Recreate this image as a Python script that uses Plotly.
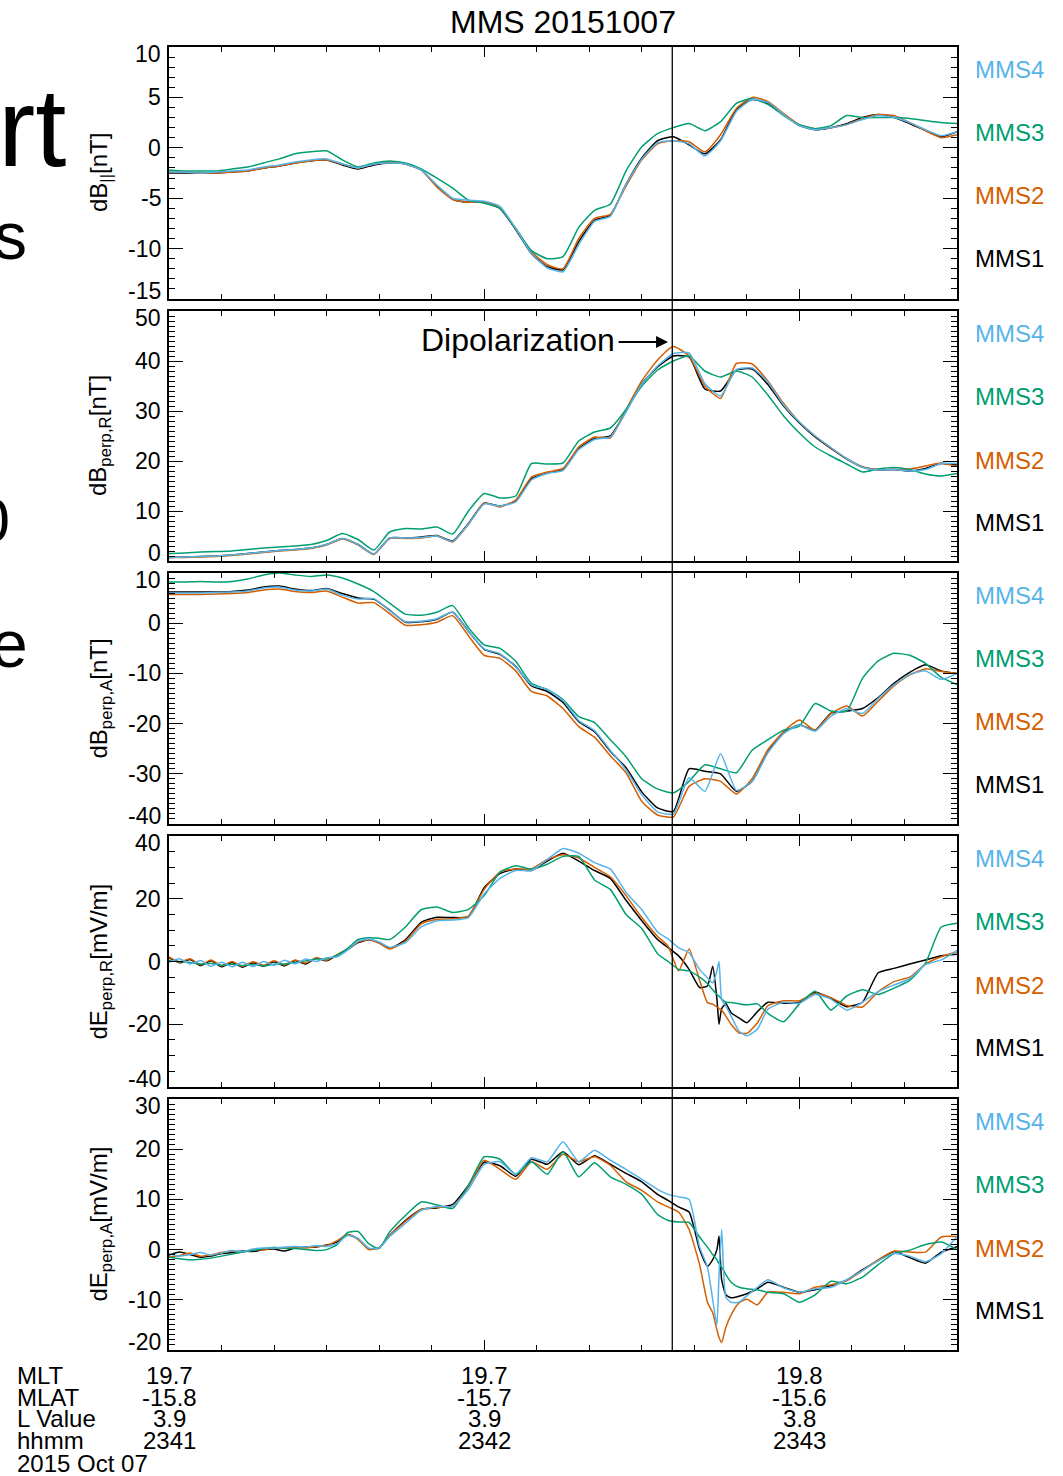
import plotly.graph_objects as go
from plotly.subplots import make_subplots

# ---- time grids (seconds after 23:41:00 UT, 2015-10-07) ----
T_B = list(range(0, 151, 3))
T_E = (list(range(0, 41, 2)) + list(range(42, 91, 3)) +
       [93, 95, 97, 99, 101, 102.5, 103.5, 104.3, 104.7, 105.2, 106, 107, 108.5, 110, 112, 114] +
       list(range(117, 151, 3)))

SERIES = ["MMS1", "MMS2", "MMS3", "MMS4"]
COLORS = {"MMS1": "#000000", "MMS2": "#D55E00", "MMS3": "#009E73", "MMS4": "#56B4E9"}

# ---- dB_parallel [nT] ----
BPAR_1 = [-2.5,-2.5,-2.5,-2.5,-2.4,-2.3,-2.0,-1.8,-1.5,-1.3,-1.2,-1.7,-2.1,-1.7,-1.5,-1.6,-2.2,-3.8,-5.1,-5.4,-5.4,-6.0,-8.1,-10.5,-11.8,-12.1,-9.3,-7.2,-6.7,-3.6,-1.0,0.7,1.1,0.3,-0.6,0.8,3.8,4.8,4.4,3.3,2.2,1.8,2.0,2.4,3.0,3.3,3.0,2.4,1.7,1.1,1.6]
BPAR_2 = [-2.4,-2.4,-2.5,-2.5,-2.4,-2.3,-2.0,-1.8,-1.5,-1.3,-1.2,-1.6,-2.0,-1.6,-1.4,-1.6,-2.2,-3.9,-5.1,-5.4,-5.4,-6.0,-8.0,-10.3,-11.6,-12.0,-9.0,-7.0,-6.6,-3.8,-1.2,0.4,0.7,0.6,-0.4,1.3,3.9,5.0,4.6,3.4,2.3,1.9,2.0,2.3,2.9,3.3,3.2,2.5,1.7,1.0,1.3]
BPAR_3 = [-2.2,-2.3,-2.3,-2.3,-2.1,-1.9,-1.5,-1.1,-0.6,-0.4,-0.3,-1.2,-1.9,-1.5,-1.3,-1.5,-2.1,-3.0,-4.0,-5.2,-5.5,-6.0,-8.0,-10.2,-11.0,-10.8,-7.9,-6.2,-5.6,-2.3,0.1,1.4,2.0,2.4,1.7,2.6,4.4,4.9,4.3,3.2,2.3,1.9,2.2,3.2,3.0,3.0,3.0,2.9,2.7,2.5,2.4]
BPAR_4 = [-2.4,-2.4,-2.5,-2.4,-2.3,-2.2,-1.9,-1.7,-1.4,-1.2,-1.1,-1.6,-2.0,-1.6,-1.5,-1.6,-2.2,-3.7,-5.0,-5.2,-5.3,-5.8,-8.0,-10.5,-11.9,-12.3,-9.6,-7.3,-6.8,-3.6,-1.1,0.5,0.7,0.4,-0.8,0.7,3.6,4.8,4.5,3.3,2.2,1.8,2.0,2.3,2.8,3.2,3.0,2.5,1.8,1.2,1.6]

# ---- dB_perp,R [nT] ----
BPR_1 = [0.7,0.8,0.9,1.0,1.2,1.5,1.8,2.1,2.3,2.6,3.3,4.5,3.3,1.4,4.6,4.6,4.8,5.1,4.0,7.5,11.6,11.0,12.0,16.5,17.6,18.3,22.5,24.5,25.0,30.0,35.5,38.8,41.0,40.8,34.4,34.0,38.2,38.4,35.3,31.0,27.6,24.8,22.5,20.4,18.8,18.2,18.3,18.0,18.5,19.5,19.2]
BPR_2 = [0.7,0.7,0.8,0.9,1.1,1.4,1.7,2.0,2.2,2.5,3.2,4.4,3.2,1.3,4.5,4.5,4.6,5.0,3.8,7.3,11.6,10.8,12.2,16.8,17.8,18.5,22.8,24.8,24.6,30.3,36.0,40.2,42.9,41.0,35.0,32.5,39.5,39.4,36.0,31.5,27.8,25.0,22.6,20.5,18.8,18.3,18.3,18.4,19.0,19.6,18.9]
BPR_3 = [1.5,1.6,1.8,1.9,2.0,2.3,2.6,2.8,3.0,3.3,4.1,5.5,4.3,2.2,5.8,6.5,6.4,6.8,5.4,10.0,13.5,12.6,13.0,19.5,19.4,19.6,24.0,25.8,26.6,30.3,35.0,38.2,40.0,41.0,38.0,36.8,38.0,36.8,33.2,29.0,25.6,22.8,21.0,19.4,17.8,18.4,18.7,18.3,17.4,17.0,17.5]
BPR_4 = [0.7,0.8,0.9,1.0,1.2,1.5,1.8,2.1,2.3,2.6,3.3,4.5,3.3,1.4,4.6,4.6,4.7,5.0,3.9,7.4,11.4,11.0,11.8,16.2,17.5,18.1,22.3,24.3,24.8,29.8,35.4,39.0,41.5,41.6,35.5,33.0,38.3,38.6,35.8,31.2,27.8,25.0,22.7,20.5,18.7,18.2,18.3,18.0,18.3,19.5,19.5]

# ---- dB_perp,A [nT] ----
BPA_1 = [6.2,6.2,6.2,6.2,6.3,6.6,7.2,7.4,6.8,6.5,6.9,5.9,5.0,4.8,2.6,0.2,0.3,0.8,2.2,-1.6,-5.2,-6.2,-8.6,-12.5,-13.6,-15.8,-19.6,-21.6,-25.5,-28.8,-33.6,-36.8,-37.5,-29.0,-29.5,-30.0,-33.5,-31.5,-25.6,-21.8,-20.3,-21.3,-17.9,-17.5,-17.0,-14.8,-12.0,-9.8,-8.3,-9.5,-10.0]
BPA_2 = [5.7,5.7,5.7,5.8,5.9,6.1,6.6,6.8,6.3,6.1,6.4,5.2,4.0,4.1,1.9,-0.4,-0.3,0.2,1.5,-2.5,-6.4,-7.0,-9.5,-13.6,-14.5,-17.0,-20.6,-22.7,-26.4,-29.8,-35.5,-38.2,-38.6,-32.5,-31.0,-31.5,-34.0,-31.0,-25.2,-21.6,-19.3,-21.3,-18.0,-16.5,-18.5,-15.5,-12.5,-10.3,-9.1,-9.6,-10.0]
BPA_3 = [8.2,8.2,8.3,8.2,8.3,8.8,9.6,10.0,9.6,9.3,9.6,9.0,7.8,6.3,4.0,1.8,1.6,2.2,3.5,-0.9,-4.3,-5.0,-7.6,-12.0,-13.2,-15.2,-18.6,-19.8,-23.2,-26.6,-31.0,-33.0,-33.8,-31.5,-28.2,-29.0,-29.8,-25.3,-23.2,-21.3,-20.5,-16.0,-17.5,-17.5,-11.0,-7.5,-6.0,-6.4,-8.0,-10.8,-12.2]
BPA_4 = [6.0,6.0,6.0,6.1,6.2,6.4,7.0,7.2,6.6,6.4,6.8,5.6,4.8,4.9,2.5,0.3,0.4,0.9,2.2,-1.6,-5.1,-6.1,-8.7,-12.3,-13.2,-15.4,-19.4,-21.4,-25.3,-29.2,-34.2,-37.6,-38.0,-30.8,-33.5,-26.0,-33.3,-31.5,-25.8,-22.0,-20.3,-21.5,-18.5,-17.0,-18.0,-15.0,-12.3,-10.2,-9.5,-11.2,-10.0]

# ---- dE_perp,R [mV/m] ----
EPR_1 = [1.2,-0.4,0.6,-1.3,0.2,-1.7,-0.3,-1.8,-0.4,-1.5,-0.1,-1.4,0.3,-0.8,1.0,0.2,2.0,3.8,6.0,6.9,6.0,
         4.2,6.9,12.5,14.1,14.0,14.3,23.5,28.0,29.5,29.0,32.0,34.5,32.0,29.0,26.5,19.5,13.0,
         7.0,4.4,1.8,-2.5,-8.3,-7.8,-1.5,-12.0,-20.0,-15.0,-13.5,-16.3,-18.0,-19.5,-16.0,-13.0,
         -13.3,-13.0,-9.8,-11.7,-14.4,-13.0,-3.6,-2.2,-0.8,0.5,1.8,2.3]
EPR_2 = [1.5,-0.2,0.9,-1.0,0.5,-1.4,0.0,-1.5,-0.1,-1.2,0.2,-1.1,0.5,-0.5,1.2,0.4,2.2,4.0,6.2,7.0,5.8,
         4.0,6.5,12.0,13.5,13.6,14.5,23.0,28.5,29.5,29.5,32.5,34.0,33.0,30.0,27.0,21.0,14.0,
         8.0,4.9,-3.0,4.0,-6.0,-13.1,-13.6,-14.5,-15.0,-15.5,-17.4,-20.0,-22.7,-22.9,-19.6,-14.1,
         -12.5,-12.5,-10.2,-11.5,-14.0,-14.5,-9.6,-6.4,-5.0,-0.8,1.5,3.1]
EPR_3 = [0.3,0.0,-0.3,-0.8,-0.6,-1.2,-0.9,-1.3,-1.0,-1.4,-0.9,-0.8,-0.3,0.2,0.8,0.9,2.0,4.2,7.0,7.6,7.4,
         7.0,11.0,16.5,17.4,15.6,16.6,21.0,28.5,30.5,29.5,31.0,33.5,33.5,26.0,23.0,15.0,10.5,
         2.5,0.0,-2.5,-3.0,-5.0,-7.0,-9.0,-10.5,-11.0,-12.0,-13.0,-13.1,-13.5,-13.8,-13.5,-16.5,
         -19.2,-13.5,-9.5,-15.5,-11.0,-9.0,-10.5,-8.5,-6.0,-0.5,11.0,12.2]
EPR_4 = [-0.2,0.9,-0.8,0.3,-1.5,-0.2,-1.7,-0.2,-1.6,0.0,-1.2,0.4,-0.8,0.8,0.0,1.2,1.5,3.6,6.5,7.2,6.2,
         4.5,6.0,11.0,13.0,13.2,14.0,21.5,26.5,29.0,29.0,32.5,36.0,34.5,31.5,29.5,22.0,16.5,
         9.4,7.2,4.4,2.8,-2.5,-5.2,-6.8,-3.0,0.0,-12.0,-14.2,-17.4,-22.2,-23.7,-21.6,-15.2,
         -13.0,-13.3,-10.5,-12.0,-15.5,-13.0,-9.6,-7.5,-5.5,-1.0,0.5,3.5]

# ---- dE_perp,A [mV/m] ----
EPA_1 = [-1.1,-0.5,-1.0,-1.5,-1.3,-0.8,-0.6,-0.3,-0.4,0.0,0.1,-0.3,0.3,0.5,0.5,0.9,1.5,3.0,2.2,0.2,0.3,
         2.8,5.8,8.0,8.3,9.0,12.8,17.4,16.7,14.6,18.0,17.0,19.5,16.9,18.7,17.0,15.2,13.5,
         11.0,9.8,8.5,7.5,0.0,-3.3,-2.0,0.0,2.7,-6.0,-9.0,-9.6,-9.3,-8.8,-7.8,-6.5,
         -7.5,-8.5,-8.0,-7.2,-6.1,-4.0,-2.2,-0.4,-1.6,-2.7,-0.5,0.6]
EPA_2 = [-1.5,-1.2,-0.7,-1.3,-1.0,-0.6,-0.3,-0.5,0.0,-0.1,0.4,0.2,0.5,0.3,0.6,0.8,1.8,3.0,2.0,0.0,0.4,
         2.8,5.6,8.0,8.4,8.6,12.5,17.8,16.0,14.0,17.5,16.0,19.0,17.5,18.5,16.8,13.5,11.8,
         9.5,8.5,7.5,4.0,-3.0,-10.5,-12.6,-16.0,-17.5,-18.5,-15.5,-13.0,-10.6,-9.9,-11.0,-8.5,
         -8.5,-8.8,-7.5,-7.0,-6.2,-4.2,-2.0,-0.3,-0.5,-0.5,2.5,2.6]
EPA_3 = [-1.5,-1.8,-2.0,-1.9,-1.7,-1.3,-0.9,-0.5,-0.2,0.2,0.4,0.3,0.2,0.0,-0.2,0.0,1.0,3.4,3.6,1.2,0.2,
         3.5,6.8,9.5,8.9,8.2,12.8,18.5,18.0,15.0,17.5,15.0,19.5,14.5,17.3,14.5,13.0,11.0,
         7.0,5.8,5.5,5.4,2.5,0.5,-1.0,-2.0,-2.8,-3.5,-5.0,-6.5,-7.5,-7.8,-8.0,-8.5,
         -8.8,-10.5,-9.0,-6.3,-6.8,-5.5,-3.0,-0.8,-0.1,1.0,1.5,0.0]
EPA_4 = [-0.8,-1.3,-1.0,-0.6,-1.1,-0.7,-0.2,-0.4,0.1,0.3,0.3,0.5,0.6,0.5,0.8,0.6,1.2,2.8,2.2,0.3,0.3,
         2.6,5.2,7.8,8.6,8.6,12.0,17.0,17.5,15.0,18.3,17.5,21.5,17.5,19.8,17.8,16.0,14.0,
         12.0,11.0,10.5,10.0,0.5,-3.5,-10.0,-15.0,-5.0,4.0,-9.5,-10.5,-10.5,-9.2,-7.5,-6.0,
         -7.6,-8.5,-7.8,-7.5,-6.0,-4.2,-2.2,-0.8,-1.3,-2.4,-0.8,2.6]

# ---- axis / label text ----
Y_TITLES = ["dB<sub>||</sub>[nT]", "dB<sub>perp,R</sub>[nT]", "dB<sub>perp,A</sub>[nT]",
            "dE<sub>perp,R</sub>[mV/m]", "dE<sub>perp,A</sub>[mV/m]"]
Y_RANGES = [[-15, 10], [0, 50], [-40, 10], [-40, 40], [-20, 30]]
Y_TICKS = [[-15, -10, -5, 0, 5, 10], [0, 10, 20, 30, 40, 50], [-40, -30, -20, -10, 0, 10],
           [-40, -20, 0, 20, 40], [-20, -10, 0, 10, 20, 30]]
Y_MINOR = [1, 1, 1, 5, 1]
ROW_NAMES = ["MLT", "MLAT", "L Value", "hhmm", "2015 Oct 07"]
TICK_T = [0, 60, 120]
MLT = ["19.7", "19.7", "19.8"]
MLAT = ["-15.8", "-15.7", "-15.6"]
LVAL = ["3.9", "3.9", "3.8"]
HHMM = ["2341", "2342", "2343"]
EVENT_T = 95.8

PANELS = [
    (T_B, [BPAR_1, BPAR_2, BPAR_3, BPAR_4]),
    (T_B, [BPR_1, BPR_2, BPR_3, BPR_4]),
    (T_B, [BPA_1, BPA_2, BPA_3, BPA_4]),
    (T_E, [EPR_1, EPR_2, EPR_3, EPR_4]),
    (T_E, [EPA_1, EPA_2, EPA_3, EPA_4]),
]

W, H = 1063, 1476
L, R, TOP, BOT = 169, 957, 47, 1350
PANEL_PX = [(47, 299), (311, 561), (573, 824), (836, 1087), (1099, 1350)]
FONT = "Liberation Sans, Arial, Helvetica, sans-serif"


def px_x(px):
    return (px - L) / (R - L)


def px_y(py):
    return (BOT - py) / (BOT - TOP)


fig = make_subplots(rows=5, cols=1, shared_xaxes=True, vertical_spacing=0.01)

for i, (tt, vals) in enumerate(PANELS):
    for name, v in zip(SERIES, vals):
        fig.add_trace(go.Scatter(x=tt, y=v, mode="lines", name=name,
                                 line=dict(color=COLORS[name], width=1.5, shape="spline", smoothing=0.5),
                                 showlegend=False), row=i + 1, col=1)

ann = []
for i in range(5):
    top, bot = PANEL_PX[i]
    xa = "xaxis" if i == 0 else f"xaxis{i+1}"
    ya = "yaxis" if i == 0 else f"yaxis{i+1}"
    yref = "y" if i == 0 else f"y{i+1}"
    fig.layout[xa].update(range=[0, 150], tickvals=TICK_T, ticks="inside", ticklen=10, tickwidth=1.3,
                          tickcolor="black", showticklabels=False, showline=True, linecolor="black",
                          linewidth=1.5, mirror="allticks", showgrid=False, zeroline=False,
                          minor=dict(tick0=0, dtick=10, ticks="inside", ticklen=5, tickwidth=1.1,
                                     tickcolor="black", showgrid=False))
    fig.layout[ya].update(domain=[px_y(bot), px_y(top)], range=Y_RANGES[i], tickvals=Y_TICKS[i],
                          ticks="inside", ticklen=14, tickwidth=1.3, tickcolor="black",
                          showticklabels=False,
                          showline=True, linecolor="black", linewidth=1.5, mirror="allticks",
                          showgrid=False, zeroline=False,
                          minor=dict(tick0=0, dtick=Y_MINOR[i], ticks="inside", ticklen=6, tickwidth=1.1,
                                     tickcolor="black", showgrid=False))
    lo, hi = Y_RANGES[i]
    for v in Y_TICKS[i]:
        shift = -7 if v == hi else (8 if v == lo else 0)
        ann.append(dict(text=str(v), xref="paper", yref=yref, x=px_x(163), y=v, yshift=shift,
                        xanchor="right", yanchor="middle", showarrow=False,
                        font=dict(family=FONT, size=23, color="black")))
    # y title
    ann.append(dict(text=Y_TITLES[i], xref="paper", yref="paper", x=px_x(100), y=px_y((top + bot) / 2),
                    xanchor="center", yanchor="middle", textangle=-90, showarrow=False,
                    font=dict(family=FONT, size=24, color="black")))
    # spacecraft labels
    for off, name in zip([22.5, 85.5, 149, 211.5], ["MMS4", "MMS3", "MMS2", "MMS1"]):
        ann.append(dict(text=name, xref="paper", yref="paper", x=px_x(1010), y=px_y(top + off),
                        xanchor="center", yanchor="middle", showarrow=False,
                        font=dict(family=FONT, size=24, color=COLORS[name])))

# title
ann.append(dict(text="MMS 20151007", xref="paper", yref="paper", x=px_x(563), y=px_y(22), xanchor="center",
                yanchor="middle", showarrow=False, font=dict(family=FONT, size=32, color="black")))

# Dipolarization arrow
ann.append(dict(text="", xref="x2", yref="y2", x=95.0, y=43.8, ax=-51, ay=0, showarrow=True,
                arrowhead=2, arrowsize=1.2, arrowwidth=2, arrowcolor="black"))
ann.append(dict(text="Dipolarization", xref="x2", yref="y2", x=85.3, y=44.2, xanchor="right",
                yanchor="middle", showarrow=False, font=dict(family=FONT, size=32, color="black")))

# bottom ephemeris rows
ROW_Y = [1375, 1397, 1418, 1440, 1463]
for name, yy in zip(ROW_NAMES, ROW_Y):
    ann.append(dict(text=name, xref="paper", yref="paper", x=px_x(15), y=px_y(yy), xanchor="left",
                    yanchor="middle", showarrow=False, font=dict(family=FONT, size=24, color="black")))
for row, yy in zip([MLT, MLAT, LVAL, HHMM], ROW_Y[:4]):
    for t, txt in zip(TICK_T, row):
        ann.append(dict(text=txt, xref="x5", yref="paper", x=t, y=px_y(yy), xanchor="center",
                        yanchor="middle", showarrow=False, font=dict(family=FONT, size=24, color="black")))

# partial slide text at left edge
for txt, rx, cy, sz in [("rt", 68, 128, 112), ("s", 29, 236, 66), ("0", 12, 520, 63), ("e", 30, 644, 66)]:
    ann.append(dict(text=txt, xref="paper", yref="paper", x=px_x(rx), y=px_y(cy), xanchor="right",
                    yanchor="middle", showarrow=False, font=dict(family=FONT, size=sz, color="black")))

fig.update_layout(
    width=W, height=H, margin=dict(l=L, r=W - R, t=TOP, b=H - BOT),
    plot_bgcolor="white", paper_bgcolor="white", showlegend=False,
    annotations=ann,
    shapes=[dict(type="line", xref="x", yref="paper", x0=EVENT_T, x1=EVENT_T, y0=0, y1=1,
                 line=dict(color="black", width=1.3))],
)

fig.write_html("out.html", config={"displayModeBar": False},
               post_script="document.body.style.margin='0';")
